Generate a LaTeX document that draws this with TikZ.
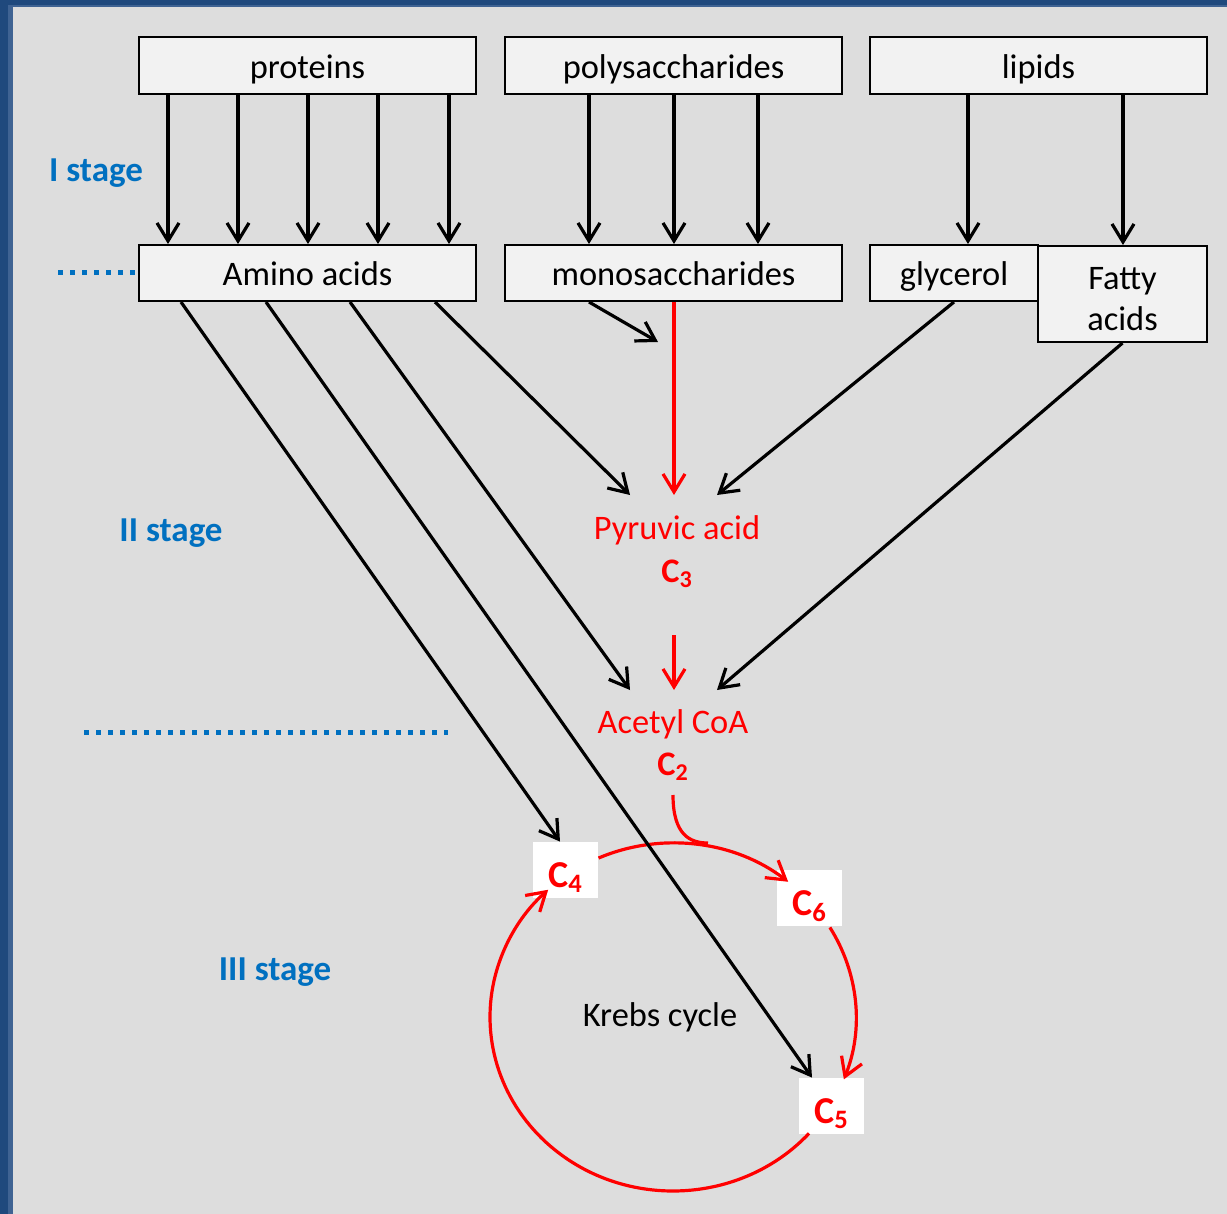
\documentclass[tikz,border=0pt]{standalone}
\usepackage{fontspec}
\setmainfont{Carlito}
\usetikzlibrary{arrows.meta,calc}
\definecolor{bgray}{HTML}{DDDDDD}
\definecolor{boxfill}{HTML}{F2F2F2}
\definecolor{framedark}{HTML}{1F497D}
\definecolor{framelight}{HTML}{3F6393}
\definecolor{stageblue}{HTML}{0070C0}
\definecolor{pathred}{HTML}{FF0000}
\tikzset{
  box/.style={draw=black, line width=1pt, fill=boxfill, inner sep=0pt,
    font=\fontsize{17.2}{20.5}\selectfont, align=center},
  onelinebox/.style={box, text depth=4pt, text height=17pt},
  cbox/.style={fill=white, inner sep=0pt, minimum width=32.5pt, minimum height=28pt,
    text depth=3pt, text height=20pt,
    text=pathred, font=\fontsize{19}{21}\selectfont\bfseries},
  arr/.style={line width=1.6pt, -{Straight Barb[length=9pt,width=11pt]}},
  redarr/.style={arr, draw=pathred},
  stagelabel/.style={text=stageblue, font=\fontsize{17.5}{20}\selectfont\bfseries},
  redtext/.style={text=pathred, font=\fontsize{17.2}{19}\selectfont},
  carbon/.style={text=pathred, font=\fontsize{17.2}{19}\selectfont\bfseries},
  stagedots/.style={draw=stageblue, line width=2.5pt, dash pattern=on 2.5pt off 3.5pt}
}
\begin{document}
\begin{tikzpicture}[x=0.5pt, y=-0.5pt]
% page, frame and background
\fill[framedark] (0,0) rectangle (1227,1214);
\fill[framelight] (8,5) rectangle (1227,1214);
\fill[bgray] (13,7) rectangle (1227,1214);
\useasboundingbox (0,0) rectangle (1227,1214);

% stage separators
\draw[stagedots] (58,273) -- (139,273);
\draw[stagedots] (84,732) -- (448,732);

% stage labels
\node[stagelabel] (st1) at (96,173) {I stage};
\node[stagelabel] (st2) at (171,533) {II stage};
\node[stagelabel] (st3) at (275,972) {III stage};

% macromolecules
\node[onelinebox, minimum width=168.5pt, minimum height=28.5pt] (prot) at (307.5,65.5) {proteins};
\node[onelinebox, minimum width=168.5pt, minimum height=28.5pt] (poly) at (673.5,65.5) {polysaccharides};
\node[onelinebox, minimum width=168.5pt, minimum height=28.5pt] (lip) at (1038.5,65.5) {lipids};

% monomers
\node[onelinebox, minimum width=168.5pt, minimum height=28pt] (amino) at (307.5,273) {Amino acids};
\node[onelinebox, minimum width=168.5pt, minimum height=28pt] (mono) at (673.5,273) {monosaccharides};
\node[onelinebox, minimum width=84pt, minimum height=28pt] (glyc) at (954,273) {glycerol};
\node[box, minimum width=84.5pt, minimum height=48pt] (fatty) at (1122.5,294) {};
\node[font=\fontsize{17.2}{20.5}\selectfont, align=center] (fattytext) at (1122.5,299) {Fatty\\acids};

% hydrolysis arrows
\foreach \xx in {168,238,308,378,449}
  \draw[arr] (prot.south -| \xx,0) -- (amino.north -| \xx,0);
\foreach \xx in {589,674,758}
  \draw[arr] (poly.south -| \xx,0) -- (mono.north -| \xx,0);
\draw[arr] (lip.south -| 968,0) -- (glyc.north -| 968,0);
\draw[arr] (lip.south -| 1123,0) -- (fatty.north -| 1123,0);

% intermediates
\node[redtext] (pyr) at (677,530.5) {Pyruvic acid};
\node[carbon] (c3) at (677,574) {C\textsubscript{3}};
\node[redtext] (acet) at (673,724) {Acetyl CoA};
\node[carbon] (c2) at (673,767) {C\textsubscript{2}};

\coordinate (pyrL) at (630,495);
\coordinate (pyrM) at (674,495);
\coordinate (pyrR) at (717,495);
\coordinate (acL) at (630,690);
\coordinate (acM) at (674,690);
\coordinate (acR) at (717,690);
\coordinate (c3below) at (674,635);
\coordinate (monoTip) at (658,342);
\coordinate (c2tail) at (673,795);
\coordinate (kc) at (673,1017);

% Krebs cycle intermediates
\node[cbox] (c4) at (565.5,870) {C\textsubscript{4}};
\node[cbox] (c6) at (809.5,898) {C\textsubscript{6}};
\node[cbox] (c5) at (831.5,1106) {C\textsubscript{5}};
\node[font=\fontsize{17.2}{19}\selectfont] (krebs) at (660,1017) {Krebs cycle};

% red pathway
\draw[redarr] (mono.south -| 674,0) -- (pyrM);
\draw[redarr] (c3below) -- (acM);
\draw[draw=pathred, line width=1.6pt] (c2tail) .. controls (673,835) and (690,843) .. (708,843);

% the cycle
\draw[redarr] ($(kc)+(42:183 and 174)$) arc[start angle=42, end angle=227, x radius=183, y radius=174];
\draw[redarr] ($(kc)+(246:183 and 174)$) arc[start angle=246, end angle=309, x radius=183, y radius=174];
\draw[redarr] ($(kc)+(329:183 and 174)$) arc[start angle=329, end angle=381, x radius=183, y radius=174];

% feeding arrows
\draw[arr] (mono.south -| 589,0) -- (monoTip);
\draw[arr] (amino.south -| 435,0) -- (pyrL);
\draw[arr] (amino.south -| 350,0) -- (acL);
\draw[arr] (amino.south -| 181,0) -- (c4.north -| 560,0);
\draw[arr] (amino.south -| 266,0) -- (c5.north -| 812,0);
\draw[arr] (glyc.south) -- (pyrR);
\draw[arr] (fatty.south) -- (acR);
\end{tikzpicture}
\end{document}
